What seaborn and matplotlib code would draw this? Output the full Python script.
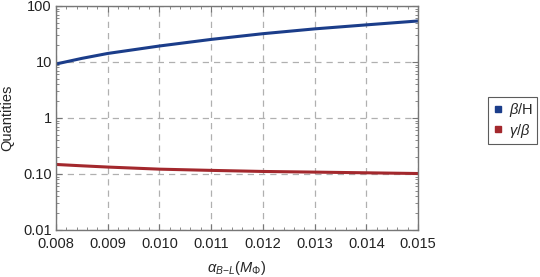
import matplotlib
matplotlib.use("Agg")
import matplotlib.pyplot as plt
import matplotlib.ticker as mticker
import numpy as np
import pandas as pd
import seaborn as sns

# values
alpha = [0.008, 0.0085, 0.009, 0.010, 0.011, 0.012, 0.013, 0.014, 0.015]
beta_over_H = [9.2, 11.6, 14.2, 19.3, 25.3, 32.0, 39.0, 46.0, 54.0]
gamma_over_beta = [0.148, 0.140, 0.133, 0.122, 0.116, 0.111, 0.108, 0.105, 0.102]

series_names = [r"$\beta$/H", r"$\gamma/\beta$"]
colors = ["#1b3d8a", "#a3282d"]

x_ticks = [0.008, 0.009, 0.010, 0.011, 0.012, 0.013, 0.014, 0.015]
y_ticks = [0.01, 0.1, 1, 10, 100]
y_ticklabels = ["0.01", "0.10", "1", "10", "100"]

df = pd.concat([
    pd.DataFrame({"alpha": alpha, "value": beta_over_H, "series": series_names[0]}),
    pd.DataFrame({"alpha": alpha, "value": gamma_over_beta, "series": series_names[1]}),
])

sns.set_style("ticks")
plt.rcParams["font.family"] = ["Liberation Sans", "DejaVu Sans"]
plt.rcParams["mathtext.fontset"] = "custom"
plt.rcParams["mathtext.rm"] = "Liberation Sans"
plt.rcParams["mathtext.it"] = "Liberation Sans:italic"
plt.rcParams["mathtext.bf"] = "Liberation Sans:bold"

fig = plt.figure(figsize=(5.4, 2.77), dpi=100)
ax = fig.add_axes([0.1037, 0.1697, 0.6704, 0.8087])

sns.lineplot(data=df, x="alpha", y="value", hue="series", palette=colors,
             linewidth=2.2, ax=ax, legend=False)

ax.set_yscale("log")
ax.set_xlim(0.008, 0.015)
ax.set_ylim(0.01, 100)
ax.set_xticks(x_ticks)
ax.set_xticklabels([f"{v:.3f}" for v in x_ticks])
ax.set_yticks(y_ticks)
ax.set_yticklabels(y_ticklabels)
ax.xaxis.set_minor_locator(mticker.MultipleLocator(0.0002))
ax.yaxis.set_minor_locator(mticker.LogLocator(base=10, subs=np.arange(2, 10)))
ax.yaxis.set_minor_formatter(mticker.NullFormatter())

ax.tick_params(which="both", direction="in", top=True, right=True,
               color="#777777", labelsize=10.5, labelcolor="#222222")
ax.tick_params(which="major", length=4, width=0.8)
ax.tick_params(which="minor", length=2.5, width=0.6)
ax.tick_params(axis="x", which="major", pad=5)
ax.tick_params(axis="y", which="major", pad=3)
for s in ax.spines.values():
    s.set_color("#777777")
    s.set_linewidth(1.0)

ax.grid(True, which="major", linestyle=(0, (5, 4)), color="#b0b0b0", linewidth=0.9)

ax.set_xlabel(r"$\alpha_{B\!-\!L}(M_\Phi)$", fontsize=10.5, labelpad=6)
ax.set_ylabel("Quantities", fontsize=10.5)
ax.yaxis.set_label_coords(-0.114, 0.5)

handles = [plt.Line2D([], [], marker="s", linestyle="none", color=c, markersize=5)
           for c in colors]
leg = fig.legend(handles, series_names, loc="center left",
                 bbox_to_anchor=(0.904, 0.565), frameon=True, fancybox=False,
                 fontsize=10.5, handletextpad=0.3, borderpad=0.3,
                 handlelength=0.8, labelspacing=0.15, borderaxespad=0)
leg.get_frame().set_edgecolor("#333333")
leg.get_frame().set_linewidth(0.8)

fig.savefig("out.png", dpi=100)
plt.close(fig)
